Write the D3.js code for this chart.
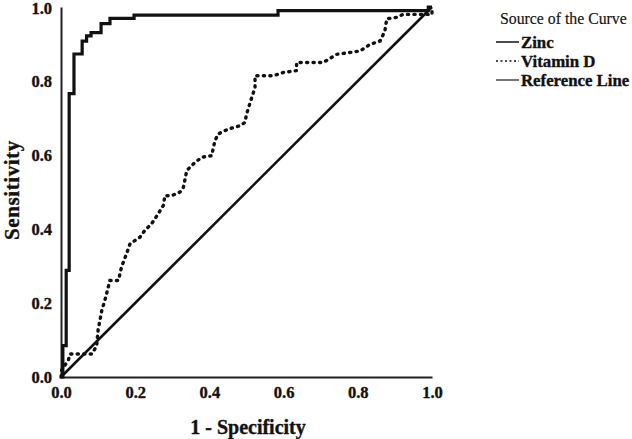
<!DOCTYPE html>
<html>
<head>
<meta charset="utf-8">
<script src="https://cdn.jsdelivr.net/npm/d3@7"></script>
<style>
  body { margin: 0; background: #fff; }
  svg { display: block; font-family: "Liberation Serif", "Times New Roman", serif; }
</style>
</head>
<body>
<svg id="chart" width="632" height="439"></svg>
<script>
// ROC curve points (1 - specificity, sensitivity)
const zincFpr = [0, 0.005, 0.014, 0.022, 0.035, 0.057, 0.069, 0.081, 0.108, 0.132, 0.197, 0.585, 0.99, 1];
const zincTpr = [0, 0.085, 0.288, 0.766, 0.873, 0.908, 0.922, 0.931, 0.955, 0.969, 0.978, 0.99, 1, 1];

const vitDFpr = [0, 0.002, 0.02, 0.024, 0.083, 0.096, 0.1, 0.11, 0.119, 0.132, 0.155, 0.163, 0.177, 0.186,
  0.213, 0.226, 0.244, 0.262, 0.276, 0.28, 0.298, 0.321, 0.33, 0.339, 0.357, 0.379, 0.406, 0.415, 0.424,
  0.451, 0.482, 0.496, 0.5, 0.514, 0.523, 0.523, 0.572, 0.599, 0.635, 0.635, 0.707, 0.743, 0.806, 0.833,
  0.86, 0.873, 0.878, 0.905, 0.922, 1, 1];
const vitDTpr = [0, 0.019, 0.046, 0.062, 0.062, 0.084, 0.127, 0.18, 0.21, 0.261, 0.261, 0.297, 0.334, 0.36,
  0.378, 0.396, 0.414, 0.441, 0.464, 0.49, 0.49, 0.5, 0.513, 0.558, 0.576, 0.594, 0.598, 0.639, 0.657,
  0.67, 0.679, 0.688, 0.71, 0.755, 0.782, 0.814, 0.814, 0.823, 0.828, 0.85, 0.85, 0.872, 0.881, 0.899,
  0.908, 0.935, 0.968, 0.972, 0.98, 0.98, 1];

const refFpr = [0, 1];
const refTpr = [0, 1];

const ticks = [0, 0.2, 0.4, 0.6, 0.8, 1.0];
const legendLabels = ["Zinc", "Vitamin D", "Reference Line"];

const svg = d3.select('#chart');

const x = d3.scaleLinear().domain([0, 1]).range([61, 432]);
const y = d3.scaleLinear().domain([0, 1]).range([377, 7]);

const toPts = (xs, ys) => xs.map((v, i) => [v, ys[i]]);

const line = d3.line()
    .x(d => x(d[0]))
    .y(d => y(d[1]));

// thicker-looking bold text like the original export
const boldish = sel => sel
    .attr('font-weight', 'bold')
    .attr('fill', '#111')
    .attr('stroke', '#111')
    .attr('stroke-width', 0.35);

// axes (no tick marks, just the lines and labels)
const xAxis = svg.append('g')
    .attr('transform', `translate(0,${y(0)})`)
    .call(d3.axisBottom(x).tickValues(ticks).tickFormat(d3.format('.1f')).tickSize(0).tickPadding(9));
const yAxis = svg.append('g')
    .attr('transform', `translate(${x(0)},0)`)
    .call(d3.axisLeft(y).tickValues(ticks).tickFormat(d3.format('.1f')).tickSize(0).tickPadding(9));

[xAxis, yAxis].forEach(a => {
    a.select('.domain').attr('stroke', '#222').attr('stroke-width', 2);
    a.selectAll('text')
        .attr('font-family', '"Liberation Serif", serif')
        .attr('font-size', 16.5)
        .call(boldish);
});
yAxis.selectAll('.tick text').filter(d => d === 1).attr('dy', '0.42em');

// curves
svg.append('path')
    .datum(toPts(refFpr, refTpr))
    .attr('d', line)
    .attr('fill', 'none')
    .attr('stroke', '#111')
    .attr('stroke-width', 2.6);

svg.append('path')
    .datum(toPts(vitDFpr, vitDTpr))
    .attr('d', line)
    .attr('fill', 'none')
    .attr('stroke', '#111')
    .attr('stroke-width', 3.4)
    .attr('stroke-linecap', 'round')
    .attr('stroke-dasharray', '1.2,5.3');

svg.append('path')
    .datum(toPts(zincFpr, zincTpr))
    .attr('d', line.curve(d3.curveStepAfter))
    .attr('fill', 'none')
    .attr('stroke', '#111')
    .attr('stroke-width', 3.2);
line.curve(d3.curveLinear);

// axis titles
svg.append('text')
    .attr('x', 248)
    .attr('y', 434)
    .attr('text-anchor', 'middle')
    .attr('font-size', 20)
    .call(boldish)
    .text('1 - Specificity');

svg.append('text')
    .attr('transform', 'translate(19,190) rotate(-90)')
    .attr('text-anchor', 'middle')
    .attr('font-size', 21)
    .attr('letter-spacing', 0.6)
    .call(boldish)
    .text('Sensitivity');

// legend
const legend = svg.append('g');
legend.append('text')
    .attr('x', 500)
    .attr('y', 24)
    .attr('font-size', 15.8)
    .attr('fill', '#111')
    .attr('stroke', '#111')
    .attr('stroke-width', 0.15)
    .text('Source of the Curve');

const legendStyles = [
    { stroke: '#111', dash: null, width: 1.5 },
    { stroke: '#111', dash: '2,2.5', width: 1.5 },
    { stroke: '#666', dash: null, width: 1.8 }
];

legendLabels.forEach((lab, i) => {
    const ly = 42 + i * 19;
    const s = legendStyles[i];
    legend.append('line')
        .attr('x1', 496).attr('x2', 519)
        .attr('y1', ly).attr('y2', ly)
        .attr('stroke', s.stroke)
        .attr('stroke-width', s.width)
        .attr('stroke-dasharray', s.dash);
    legend.append('text')
        .attr('x', 521)
        .attr('y', ly + 5.5)
        .attr('font-size', 16.8)
        .call(boldish)
        .text(lab);
});
</script>
</body>
</html>
